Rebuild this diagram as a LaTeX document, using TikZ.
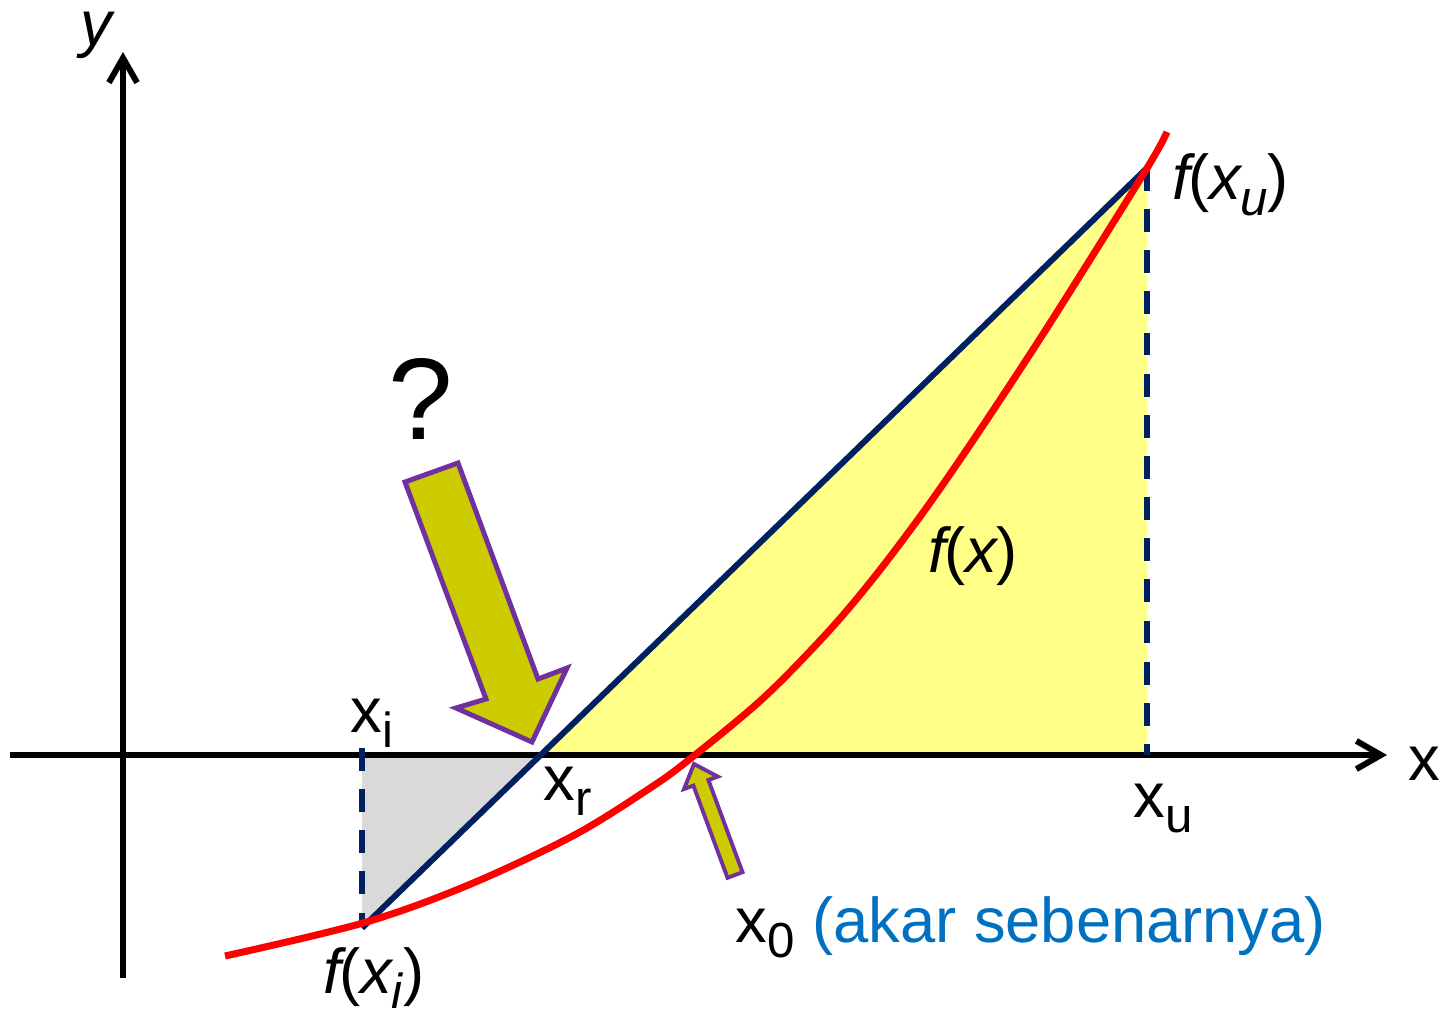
\documentclass[tikz,border=0pt]{standalone}
\usepackage{fontspec}
\setmainfont{Liberation Sans}
\usetikzlibrary{arrows.meta}
\definecolor{navy}{HTML}{002060}
\definecolor{fxred}{HTML}{FF0000}
\definecolor{ylw}{HTML}{FFFF88}
\definecolor{gry}{HTML}{D9D9D9}
\definecolor{olivefill}{HTML}{CCCC00}
\definecolor{purp}{HTML}{7030A0}
\definecolor{akar}{HTML}{0070C0}
\newcommand{\lsub}[1]{\raisebox{-4.3pt}{\fontsize{14}{15}\selectfont #1}}
\newcommand{\itf}{\textit{f}\kern-2.2pt}
\newcommand{\itx}{\textit{x}\kern-0.6pt}
\begin{document}
\begin{tikzpicture}[x=0.01cm,y=-0.01cm,
  axisline/.style={line width=1.7pt, -{Straight Barb[length=7pt,width=8pt,line width=1.7pt]}},
  lbl/.style={anchor=base west, inner sep=0pt, font=\fontsize{18}{20}\selectfont},
  guide/.style={navy, line width=1.7pt, dash pattern=on 6.5pt off 5.2pt},
  secant/.style={navy, line width=1.7pt},
  curve/.style={fxred, line width=2pt},
  bigarrow/.style={fill=olivefill, draw=purp, line width=1.4pt, line join=miter},
  smallarrow/.style={fill=olivefill, draw=purp, line width=1.1pt, line join=miter}]
\useasboundingbox (0,0) rectangle (1440,1016);
% key points
\coordinate (xi) at (362,755);
\coordinate (xitop) at (362,748);
\coordinate (fxi) at (362,928);
\coordinate (fxicurve) at (362,925);
\coordinate (xr) at (540.7,755);
\coordinate (xu) at (1147,755);
\coordinate (fxu) at (1147,168);
\coordinate (xaxisL) at (10,755);
\coordinate (xaxisR) at (1387,755);
\coordinate (yaxisB) at (123,978);
\coordinate (yaxisT) at (123,52);
% fills
\fill[ylw] (xr) -- (fxu) -- (xu) -- cycle;
\fill[gry] (xi) -- (fxi) -- (xr) -- cycle;
% axes
\draw[axisline] (xaxisL) -- (xaxisR);
\draw[axisline] (yaxisB) -- (yaxisT);
% dashed guides
\draw[guide] (xitop) -- (fxicurve);
\draw[guide] (fxu) -- (xu);
% secant
\draw[secant] (fxi) -- (fxu);
% function
\draw[curve] plot[smooth, tension=0.55] coordinates {(225,956) (363,923) (467,885.6) (573,835.8) (650,788.1) (690,758.9) (763,698.3) (827,633) (873,578.7) (920,516.7) (963,455.2) (1013,380.2) (1062,304.2) (1147,168.2) (1167,132)};
% arrows
\draw[bigarrow] (405,482) -- (458,463) -- (538,679) -- (567,668) -- (532,742) -- (456,708) -- (486,699) -- cycle;
\draw[smallarrow] (694,764) -- (717.8,776.6) -- (708.4,780) -- (742.5,872.2) -- (727.5,877.8) -- (693.4,785.6) -- (684,789) -- cycle;
% labels
\node[lbl] (ylab) at (80,46) {\textit{y}};
\node[lbl] (xlab) at (1408,780) {x};
\node[lbl] (xil) at (350,732) {x\lsub{i}};
\node[lbl] (xrl) at (543,800) {x\lsub{r}};
\node[lbl] (xul) at (1133,817) {x\lsub{u}};
\node[lbl] (fxul) at (1172,200) {\itf(\itx\lsub{\textit{u}})};
\node[lbl] (fxl) at (928,572) {\itf(\itx)};
\node[lbl] (fxil) at (323,993) {\itf(\itx\lsub{\textit{i}})};
\node[lbl] (x0l) at (735,942) {x\lsub{0} \textcolor{akar}{(akar sebenarnya)}};
\node[lbl, font=\fontsize{33}{36}\selectfont] (q) at (388,440) {?};
\end{tikzpicture}
\end{document}
